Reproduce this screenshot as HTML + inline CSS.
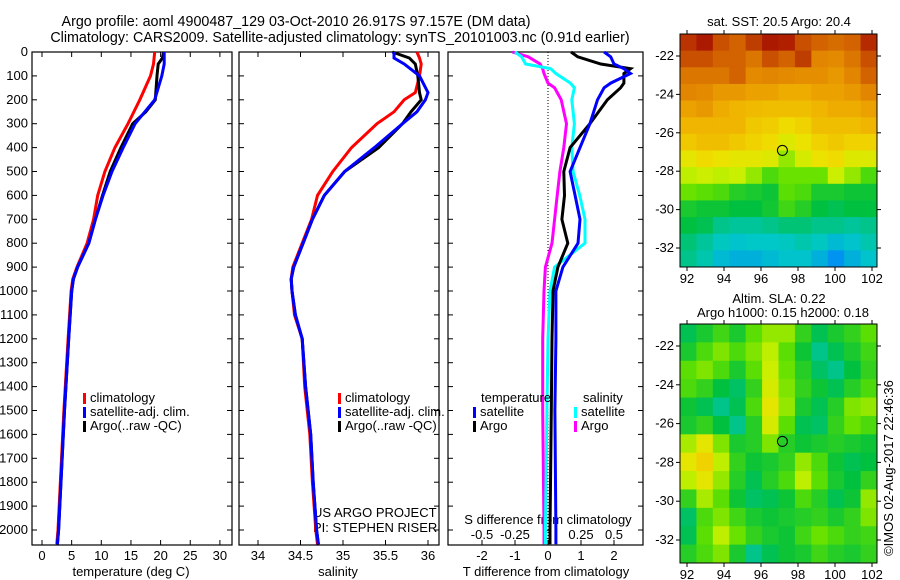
<!DOCTYPE html>
<html><head><meta charset="utf-8"><style>
body{margin:0;background:#fff}
svg{display:block;font-family:"Liberation Sans",sans-serif;font-size:13px}
</style></head><body>
<svg id="c" width="900" height="580" viewBox="0 0 900 580">
<text x="296" y="26" text-anchor="middle" font-size="14.3">Argo profile: aoml 4900487_129 03-Oct-2010 26.917S 97.157E (DM data)</text>
<text x="340" y="42" text-anchor="middle" font-size="14.3">Climatology: CARS2009. Satellite-adjusted climatology: synTS_20101003.nc (0.91d earlier)</text>
<text x="779" y="26" text-anchor="middle">sat. SST: 20.5 Argo: 20.4</text>
<text x="779" y="303" text-anchor="middle">Altim. SLA: 0.22</text>
<text x="783" y="317" text-anchor="middle">Argo h1000: 0.15 h2000: 0.18</text>
<text transform="translate(893,468) rotate(-90)" text-anchor="middle">©IMOS 02-Aug-2017 22:46:36</text>
<text x="313" y="517">US ARGO PROJECT</text>
<text x="313" y="532">PI: STEPHEN RISER</text>
<g id="g"></g>
</svg>
<script>
// ---- data ----
const tDepth=[0,50,100,200,300,400,500,600,700,800,900,950,1000,1200,1500,2000,2060];
const tClim=[19.0,18.8,18.3,16.5,14.5,12.3,10.6,9.4,8.7,7.6,5.9,5.2,4.9,4.4,3.7,2.7,2.5];
const tSat=[20.6,20.6,20.2,19.0,15.7,13.7,11.8,10.3,9.0,7.9,6.0,5.3,5.0,4.5,3.8,2.8,2.6];
const tArgoDepth=[0,25,50,100,200,250,300,400,500,600,700,800,900,950,1000,1200,1500,2000,2060];
const tArgo=[20.5,20.3,19.6,19.4,19.1,17.5,15.3,13.3,11.5,10.2,9.0,7.9,6.0,5.3,5.0,4.5,3.8,2.8,2.6];
const sDepth=[0,25,50,100,170,200,250,300,400,500,600,700,800,900,950,1000,1100,1200,1400,1600,1800,2000,2060];
const sClim=[35.87,35.9,35.92,35.9,35.85,35.72,35.6,35.4,35.1,34.88,34.7,34.63,34.52,34.41,34.39,34.4,34.43,34.52,34.55,34.61,34.64,34.68,34.7];
const sSat=[35.6,35.6,35.72,35.9,36.0,35.97,35.87,35.7,35.37,35.02,34.78,34.64,34.53,34.42,34.39,34.4,34.44,34.52,34.56,34.62,34.65,34.69,34.71];
const sArgo=[35.58,35.78,35.85,35.88,35.9,35.92,35.8,35.7,35.42,35.02,34.78,34.64,34.53,34.42,34.39,34.4,34.44,34.52,34.56,34.62,34.65,34.69,34.71];
const dDepth=[0,20,50,70,90,130,150,200,300,400,500,600,700,800,900,1000,1200,1500,2000,2060];
const dTArgo=[0.7,0.9,1.6,2.5,2.3,2.3,2.2,1.8,1.27,0.67,0.48,0.5,0.42,0.6,0.3,0.15,0.12,0.1,0.06,0.06];
const dTSat=[1.7,1.9,2.0,2.3,2.5,1.9,1.7,1.5,1.27,0.97,0.67,0.82,0.97,0.91,0.45,0.24,0.24,0.21,0.24,0.24];
const dSSat=[-0.25,-0.2,-0.17,0.02,0.06,0.17,0.2,0.18,0.2,0.18,0.19,0.24,0.28,0.28,0.05,0.015,0,-0.008,-0.02,-0.02];
const dSArgo=[-0.27,-0.15,-0.06,-0.04,-0.03,0.0,0.05,0.1,0.14,0.12,0.09,0.07,0.05,0.03,-0.02,-0.03,-0.04,-0.04,-0.03,-0.03];
const depthTicks=[0,100,200,300,400,500,600,700,800,900,1000,1100,1200,1300,1400,1500,1600,1700,1800,1900,2000];
const tTicks=[0,5,10,15,20,25,30];
const sTicks=[34,34.5,35,35.5,36];
const dtTicks=[-2,-1,0,1,2];
const dsTicks=[-0.5,-0.25,0,0.25,0.5];
const dsTickLabels=["-0.5","-0.25","0","0.25","0.5"];
const latTicks=[-22,-24,-26,-28,-30,-32];
const lonTicks=[92,94,96,98,100,102];
const sstGrid=[
[.93,.96,.9,.88,.92,.96,.95,.9,.88,.87,.88,.94],
[.9,.9,.88,.88,.86,.9,.88,.92,.84,.83,.86,.9],
[.86,.86,.86,.88,.83,.84,.83,.82,.82,.8,.84,.88],
[.84,.83,.8,.8,.78,.78,.76,.76,.78,.78,.8,.84],
[.78,.8,.76,.74,.73,.72,.72,.72,.74,.76,.76,.78],
[.74,.74,.74,.74,.7,.69,.66,.68,.72,.72,.72,.74],
[.7,.72,.72,.7,.68,.66,.6,.64,.68,.7,.68,.68],
[.62,.66,.64,.62,.62,.6,.5,.58,.64,.66,.6,.6],
[.54,.56,.54,.55,.5,.42,.46,.46,.46,.56,.5,.42],
[.46,.44,.42,.36,.34,.32,.44,.42,.34,.34,.32,.32],
[.34,.32,.32,.3,.3,.33,.4,.36,.3,.28,.3,.3],
[.3,.28,.22,.2,.2,.22,.24,.24,.22,.22,.2,.22],
[.24,.2,.16,.14,.15,.15,.16,.18,.16,.12,.14,.18],
[.22,.18,.12,.1,.1,.12,.14,.14,.1,.04,.1,.14]];
const slaGrid=[
[.28,.34,.4,.34,.44,.5,.5,.38,.28,.34,.38,.44],
[.34,.42,.48,.42,.48,.54,.44,.32,.22,.28,.34,.4],
[.44,.48,.42,.34,.44,.56,.46,.36,.26,.22,.3,.38],
[.42,.38,.3,.26,.38,.58,.48,.38,.32,.28,.36,.42],
[.32,.28,.22,.28,.42,.62,.5,.34,.28,.36,.48,.5],
[.34,.38,.3,.22,.36,.58,.44,.28,.26,.38,.46,.42],
[.52,.62,.48,.34,.36,.48,.36,.32,.34,.36,.34,.32],
[.62,.68,.54,.38,.32,.34,.38,.5,.42,.32,.28,.3],
[.54,.62,.5,.36,.28,.36,.42,.54,.44,.34,.3,.38],
[.38,.52,.44,.32,.26,.28,.32,.42,.36,.28,.32,.5],
[.26,.42,.48,.4,.34,.32,.34,.36,.38,.34,.38,.48],
[.28,.44,.54,.46,.38,.34,.32,.4,.46,.42,.38,.4],
[.36,.42,.48,.34,.22,.28,.32,.34,.4,.36,.34,.38]];

// ---- helpers ----
const NS="http://www.w3.org/2000/svg", G=document.getElementById('g');
function el(t,a,p){const e=document.createElementNS(NS,t);for(const k in a)e.setAttribute(k,a[k]);(p||G).appendChild(e);return e;}
const yD=d=>52+d*0.239, BOT=545;
const xT=v=>42+v*5.93, xS=v=>258+(v-34)*85, xDT=v=>548+v*33, xDS=v=>548+v*132;
const panels=[[32,232],[239,439],[448,643]];
function frame(x0,x1,name){
  const r=el('rect',{x:x0,y:52,width:x1-x0,height:BOT-52,fill:'none',stroke:'#000','stroke-width':1.2});
  
  
  depthTicks.forEach(d=>{el('line',{x1:x0,x2:x0+5,y1:yD(d),y2:yD(d),stroke:'#000'});el('line',{x1:x1,x2:x1-5,y1:yD(d),y2:yD(d),stroke:'#000'});});
}
panels.forEach((p,i)=>frame(p[0],p[1],['temperature-panel','salinity-panel','difference-panel'][i]));
depthTicks.forEach(d=>{const t=el('text',{x:28,y:yD(d)+4,'text-anchor':'end'});t.textContent=d;
  
  });
function xticks(ticks,fx,labels,y,top){ticks.forEach((v,i)=>{const x=fx(v);
  el('line',{x1:x,x2:x,y1:BOT,y2:BOT-5,stroke:'#000'});if(top)el('line',{x1:x,x2:x,y1:52,y2:57,stroke:'#000'});
  const t=el('text',{x:x,y:y,'text-anchor':'middle'});t.textContent=labels?labels[i]:v;
  
  });}
xticks(tTicks,xT,null,560,true);xticks(sTicks,xS,null,560,true);xticks(dtTicks,xDT,null,560,false);
dsTicks.forEach((v,i)=>{const t=el('text',{x:xDS(v),y:539,'text-anchor':'middle'});t.textContent=dsTickLabels[i];
  
  });
[[131,'temperature (deg C)','x-axis-title-temperature'],[338,'salinity','x-axis-title-salinity'],[546,'T difference from climatology','x-axis-title-t-diff'],[548,'S difference from climatology','s-diff-axis-title']].forEach((a,i)=>{
  const t=el('text',{x:a[0],y:i==3?524:576,'text-anchor':'middle'});t.textContent=a[1];
  
  });
el('line',{x1:548,x2:548,y1:52,y2:BOT,stroke:'#000','stroke-dasharray':'1,2'});
function line(xs,ds,fx,col,name){const pts=xs.map((v,i)=>fx(v).toFixed(1)+','+yD(ds[i]).toFixed(1)).join(' ');
  const p=el('polyline',{points:pts,fill:'none',stroke:col,'stroke-width':3});
  
  }
line(tClim,tDepth,xT,'#f00','temp-climatology-line');line(tArgo,tArgoDepth,xT,'#000','temp-argo-line');line(tSat,tDepth,xT,'#00f','temp-satellite-line');
line(sClim,sDepth,xS,'#f00','sal-climatology-line');line(sArgo,sDepth,xS,'#000','sal-argo-line');line(sSat,sDepth,xS,'#00f','sal-satellite-line');
line(dSArgo,dDepth,xDS,'#f0f','sdiff-argo-line');line(dSSat,dDepth,xDS,'#0ff','sdiff-satellite-line');
line(dTArgo,dDepth,xDT,'#000','tdiff-argo-line');line(dTSat,dDepth,xDT,'#00f','tdiff-satellite-line');
function leg(x,y,col,txt){el('rect',{x:x,y:y-9,width:3,height:11,fill:col});if(txt){const t=el('text',{x:x+7,y:y});t.textContent=txt;
  
  }}
[[83,'climatology','#f00'],[83,'satellite-adj. clim.','#00f'],[83,'Argo(..raw -QC)','#000']].forEach((a,i)=>leg(a[0],402+i*14,a[2],a[1]));
[[338,'climatology','#f00'],[338,'satellite-adj. clim.','#00f'],[338,'Argo(..raw -QC)','#000']].forEach((a,i)=>leg(a[0],402+i*14,a[2],a[1]));
let t=el('text',{x:481,y:402});t.textContent='temperature';
t=el('text',{x:583,y:402});t.textContent='salinity';
leg(473,416,'#00f','satellite');leg(473,430,'#000','Argo');leg(574,416,'#0ff','satellite');leg(574,430,'#f0f','Argo');
// ---- maps ----
const stops=[[0,[0,128,255]],[.15,[0,200,200]],[.3,[0,192,64]],[.45,[96,224,0]],[.55,[200,240,0]],[.65,[240,224,0]],[.75,[240,176,0]],[.85,[224,128,0]],[.95,[176,32,0]],[1,[150,0,0]]];
function cmap(v){for(let i=1;i<stops.length;i++)if(v<=stops[i][0]){const a=stops[i-1],b=stops[i],f=(v-a[0])/(b[0]-a[0]);return 'rgb('+a[1].map((c,k)=>Math.round(c+(b[1][k]-c)*f)).join(',')+')';}return 'rgb(150,0,0)';}
function map(grid,x0,x1,y0,y1,lat22,lat32,name){
  const g=el('g',{});
  const R=grid.length,C=grid[0].length,w=(x1-x0)/C,h=(y1-y0)/R;
  grid.forEach((row,r)=>row.forEach((v,c)=>el('rect',{x:x0+c*w,y:y0+r*h,width:w+0.5,height:h+0.5,fill:cmap(v)},g)));
  el('rect',{x:x0,y:y0,width:x1-x0,height:y1-y0,fill:'none',stroke:'#000'});
  const fy=l=>lat22+(l+22)/(-10)*(lat32-lat22), fx=l=>687+(l-92)*18.5;
  latTicks.forEach(l=>{const y=fy(l);el('line',{x1:x0,x2:x0-4,y1:y,y2:y,stroke:'#000'});el('line',{x1:x1,x2:x1+4,y1:y,y2:y,stroke:'#000'});
    const t=el('text',{x:x0-6,y:y+4,'text-anchor':'end'});t.textContent=l;
    
    });
  lonTicks.forEach(l=>{const x=fx(l);el('line',{x1:x,x2:x,y1:y1,y2:y1+4,stroke:'#000'});el('line',{x1:x,x2:x,y1:y0,y2:y0-4,stroke:'#000'});
    const t=el('text',{x:x,y:y1+16,'text-anchor':'middle'});t.textContent=l;
    
    });
  const c=el('circle',{cx:fx(97.157),cy:fy(-26.917),r:5,fill:'none',stroke:'#000'});
  
  
}
map(sstGrid,680,877,34,267,56,248,'sst-map');
map(slaGrid,680,877,324,563,346,540,'sla-map');
</script>
</body></html>
